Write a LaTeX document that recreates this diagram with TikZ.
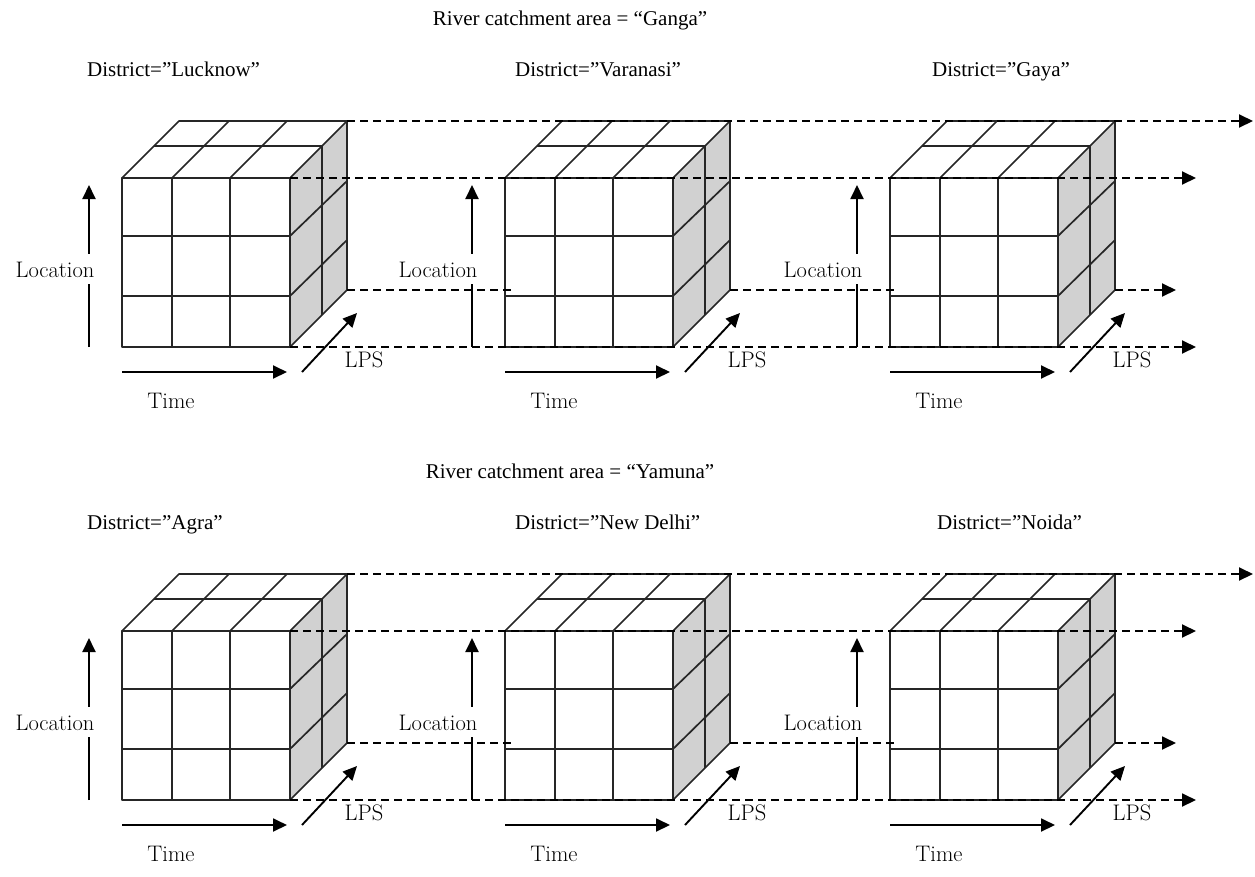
\documentclass[tikz,border=0pt]{standalone}
\usepackage{fontspec}
\usetikzlibrary{arrows.meta}
\newfontfamily\headfont{Liberation Serif}
\definecolor{sidegray}{gray}{0.82}
\begin{document}
\begin{tikzpicture}[x=1pt,y=-1pt,
  edge/.style={draw=black!85,line width=1.7pt,line join=round},
  axisline/.style={draw=black,line width=1.9pt},
  tip/.style={-{Triangle[length=14pt,width=13pt]}},
  flow/.style={draw=black,line width=1.9pt,dash pattern=on 8pt off 5pt},
  axislabel/.style={font=\fontsize{22.5}{24}\selectfont,inner sep=0pt,anchor=base},
  loclabel/.style={font=\fontsize{22.5}{24}\selectfont,anchor=base,fill=white,
    text height=16pt,text depth=0pt,inner xsep=1pt,inner ysep=7pt},
  heading/.style={font=\headfont\fontsize{21}{24}\selectfont,inner sep=0pt,anchor=base},
  district/.style={font=\headfont\fontsize{21}{24}\selectfont,inner sep=0pt,anchor=base west},
  datacube/.pic={
    % faces
    \fill[white] (0,0) rectangle (168,169);
    \fill[white] (0,0) -- (57,-57) -- (225,-57) -- (168,0) -- cycle;
    \fill[sidegray] (168,0) -- (225,-57) -- (225,112) -- (168,169) -- cycle;
    % front grid
    \draw[edge] (0,0) rectangle (168,169);
    \draw[edge] (50,0) -- (50,169) (108,0) -- (108,169)
                (0,58) -- (168,58) (0,118) -- (168,118);
    % top grid
    \draw[edge] (0,0) -- (57,-57) -- (225,-57) -- (168,0);
    \draw[edge] (50,0) -- (107,-57) (108,0) -- (165,-57);
    \draw[edge] (32,-32) -- (200,-32) -- (200,137);
    % side grid
    \draw[edge] (225,-57) -- (225,112) -- (168,169);
    \draw[edge] (168,58) -- (225,3) (168,118) -- (225,62);
    % corners used by the dashed connectors
    \coordinate (-ftr) at (168,0);
    \coordinate (-fbr) at (168,169);
    \coordinate (-btr) at (225,-57);
    \coordinate (-bbr) at (225,112);
    \coordinate (-entry) at (7,112);
    % axes
    \node[loclabel] (-loc) at (-67,99) {Location};
    \coordinate (-locfoot) at (-33,169);
    \coordinate (-loctip) at (-33,7);
    \draw[axisline] (-locfoot) -- (-locfoot |- -loc.south);
    \draw[axisline,tip] (-loctip |- -loc.north) -- (-loctip);
    \coordinate (-timefoot) at (0,194);
    \coordinate (-timetip) at (165,194);
    \draw[axisline,tip] (-timefoot) -- (-timetip);
    \node[axislabel] (-time) at (49,230) {Time};
    \coordinate (-lpsfoot) at (180,194);
    \coordinate (-lpstip) at (235,135);
    \draw[axisline,tip] (-lpsfoot) -- (-lpstip);
    \node[axislabel] (-lps) at (242,189) {LPS};
  }]
\useasboundingbox (0,0) rectangle (1255,876);

% Ganga catchment
\node[heading] (ganga) at (570,25) {River catchment area = “Ganga”};
\node[district] (lucknow) at (87,76) {District=”Lucknow”};
\node[district] (varanasi) at (515,76) {District=”Varanasi”};
\node[district] (gaya) at (932,76) {District=”Gaya”};
\pic (g1) at (122,178) {datacube};
\pic (g2) at (505,178) {datacube};
\pic (g3) at (890,178) {datacube};
\coordinate (gend1) at (1253,121);
\coordinate (gend2) at (1196,178);
\coordinate (gend3) at (1176,290);
\coordinate (gend4) at (1196,347);
\draw[flow,tip] (g1-btr) -- (gend1);
\draw[flow,tip] (g1-ftr) -- (gend2);
\draw[flow] (g1-bbr) -- (g2-entry);
\draw[flow] (g2-bbr) -- (g3-entry);
\draw[flow,tip] (g3-bbr) -- (gend3);
\draw[flow,tip] (g1-fbr) -- (gend4);

% Yamuna catchment
\node[heading] (yamuna) at (570,478) {River catchment area = “Yamuna”};
\node[district] (agra) at (87,529) {District=”Agra”};
\node[district] (newdelhi) at (515,529) {District=”New Delhi”};
\node[district] (noida) at (937,529) {District=”Noida”};
\pic (y1) at (122,631) {datacube};
\pic (y2) at (505,631) {datacube};
\pic (y3) at (890,631) {datacube};
\coordinate (yend1) at (1253,574);
\coordinate (yend2) at (1196,631);
\coordinate (yend3) at (1176,743);
\coordinate (yend4) at (1196,800);
\draw[flow,tip] (y1-btr) -- (yend1);
\draw[flow,tip] (y1-ftr) -- (yend2);
\draw[flow] (y1-bbr) -- (y2-entry);
\draw[flow] (y2-bbr) -- (y3-entry);
\draw[flow,tip] (y3-bbr) -- (yend3);
\draw[flow,tip] (y1-fbr) -- (yend4);
\end{tikzpicture}
\end{document}
